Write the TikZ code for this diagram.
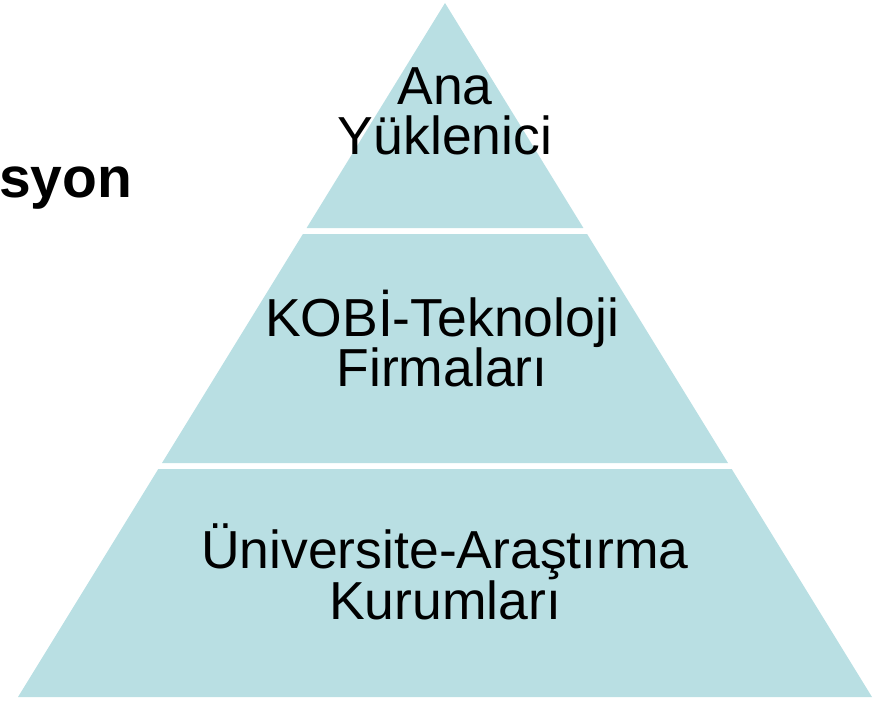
\documentclass[tikz,border=0pt]{standalone}
\usepackage{fontspec}
\setmainfont{Liberation Sans}
\definecolor{pyrfill}{HTML}{B9DFE3}

\begin{document}
\begin{tikzpicture}[x=1pt,y=-1pt]
\tikzstyle{every node}+=[inner sep=0pt]
\tikzstyle{level}=[fill=pyrfill,draw=none]
\tikzstyle{label}=[align=center,anchor=south,font=\fontsize{53.5}{50}\selectfont]
\useasboundingbox (0,0) rectangle (881,701);
% pyramid bands
\fill [level] (445,3) -- (583.4,228) -- (306.6,228) -- cycle;
\fill [level] (302.9,234) -- (587.1,234) -- (728,463) -- (162,463) -- cycle;
\fill [level] (158.3,469) -- (731.7,469) -- (872,697) -- (18,697) -- cycle;
% labels
\node [label] (top) at (445,155) {Ana\\Yüklenici};
\node [label] (mid) at (442,387) {KOBİ-Teknoloji\\Firmaları};
\node [label] (bot) at (445,620) {Üniversite-Araştırma\\Kurumları};
\node [anchor=base west,font=\fontsize{57}{60}\selectfont\bfseries] (title) at (-1,197) {syon};
\end{tikzpicture}
\end{document}
